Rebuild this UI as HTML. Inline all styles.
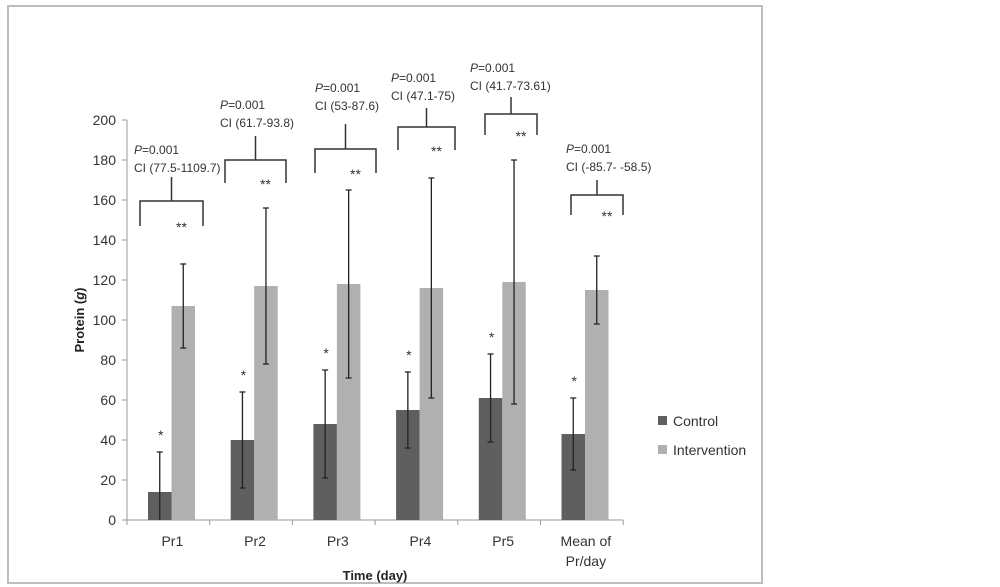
<!DOCTYPE html>
<html><head><meta charset="utf-8"><style>
body{margin:0;background:#fff;}
svg{display:block;font-family:"Liberation Sans",sans-serif;}
</style></head><body>
<svg id="chart" width="1000" height="587">
<rect x="8" y="6" width="754" height="577" fill="#fff" stroke="#bdbdbd" stroke-width="2"/>
<g id="plot"></g>
</svg>
<script>
const categories = ["Pr1","Pr2","Pr3","Pr4","Pr5","Mean of|Pr/day"];
const controlVals = [14, 40, 48, 55, 61, 43];
const controlErr = [20, 24, 27, 19, 22, 18];
const interventionVals = [107, 117, 118, 116, 119, 115];
const interventionErr = [21, 39, 47, 55, 61, 17];
const yTicks = [0,20,40,60,80,100,120,140,160,180,200];
const pLabels = ["0.001","0.001","0.001","0.001","0.001","0.001"];
const ciLabels = ["CI (77.5-1109.7)","CI (61.7-93.8)","CI (53-87.6)","CI (47.1-75)","CI (41.7-73.61)","CI (-85.7- -58.5)"];
// annotation bracket layout (pixels): left, right, top, bottom, stemTop, textX, textY
const bracketLayout = [
 [140,203,201,226,177,134,154],[225,286,160,183,136,220,109],[315,376,149,173,124,315,92],
 [398,455,127,150,108,391,82],[485,537,114,135,97,470,72],[571,623,195,215,180,566,153]];
const NS="http://www.w3.org/2000/svg";
const g=document.getElementById('plot');
const x0=127,band=82.7,y0=520,yScale=v=>y0-v*2;
const xBand=i=>x0+i*band;
function el(t,a,p){const e=document.createElementNS(NS,t);for(const k in a)e.setAttribute(k,a[k]);(p||g).appendChild(e);return e;}
// axes
let ax=el('line',{x1:x0,y1:yScale(0),x2:x0,y2:yScale(200),stroke:'#999'});


let bx=el('line',{x1:x0,y1:y0,x2:xBand(categories.length),y2:y0,stroke:'#999'});


yTicks.forEach(v=>{
 el('line',{x1:x0-5,y1:yScale(v),x2:x0,y2:yScale(v),stroke:'#999'});
 const t=el('text',{x:116,y:yScale(v)+5,'text-anchor':'end','font-size':14,fill:'#333'});t.textContent=v;
 
 
});
for(let i=0;i<=categories.length;i++)el('line',{x1:xBand(i),y1:y0,x2:xBand(i),y2:y0+5,stroke:'#999'});
const bw=23.5;
categories.forEach((c,i)=>{
 const cx=xBand(i)+21;
 const r1=el('rect',{x:cx,y:yScale(controlVals[i]),width:bw,height:controlVals[i]*2,fill:'#5f5f5f'});
 
 
 const r2=el('rect',{x:cx+bw,y:yScale(interventionVals[i]),width:bw,height:interventionVals[i]*2,fill:'#b0b0b0'});
 
 
 [[cx+bw/2,controlVals[i],controlErr[i]],[cx+bw*1.5,interventionVals[i],interventionErr[i]]].forEach(([ex,v,e])=>{
  const lo=Math.max(0,v-e),hi=v+e;
  const eb=el('path',{d:`M${ex},${yScale(lo)}V${yScale(hi)}M${ex-3},${yScale(hi)}H${ex+3}`+(v-e>0?`M${ex-3},${yScale(lo)}H${ex+3}`:''),stroke:'#222','stroke-width':1.3,fill:'none'});
  
  
 });
 const s=el('text',{x:cx+bw/2+1,y:yScale(controlVals[i]+controlErr[i])-12,'text-anchor':'middle','font-size':14,fill:'#333'});s.textContent='*';
 
 
 const parts=c.split('|');
 parts.forEach((p,k)=>{const t=el('text',{x:xBand(i)+band/2+4,y:546+k*20,'text-anchor':'middle','font-size':14,fill:'#333'});t.textContent=p;
  
  });
 const [l,r,top,bot,st,tx,ty]=bracketLayout[i];
 const br=el('path',{d:`M${l},${bot}V${top}H${r}V${bot}M${(l+r)/2},${top}V${st}`,stroke:'#333','stroke-width':1.5,fill:'none'});
 
 
 const ss=el('text',{x:(l+r)/2+10,y:bot+6,'text-anchor':'middle','font-size':14,fill:'#333'});ss.textContent='**';
 
 
 const pt=el('text',{x:tx,y:ty,'font-size':12,fill:'#333'});pt.innerHTML='<tspan font-style="italic">P</tspan>='+pLabels[i];
 
 
 const ct=el('text',{x:tx,y:ty+18,'font-size':12,fill:'#333'});ct.textContent=ciLabels[i];
 
 
});
const yt=el('text',{x:0,y:0,transform:'translate(84,320) rotate(-90)','text-anchor':'middle','font-size':13,'font-weight':'bold',fill:'#222'});
yt.innerHTML='Protein (<tspan font-style="italic">g</tspan>)';


const xt=el('text',{x:375,y:580,'text-anchor':'middle','font-size':13,'font-weight':'bold',fill:'#222'});xt.textContent='Time (day)';


[["Control","#5f5f5f",416],["Intervention","#b0b0b0",445]].forEach(([n,c,y])=>{
 const sw=el('rect',{x:658,y:y,width:9,height:9,fill:c});
 
 
 const t=el('text',{x:673,y:y+10,'font-size':14,fill:'#333'});t.textContent=n;
 
 
});
</script>
</body></html>
